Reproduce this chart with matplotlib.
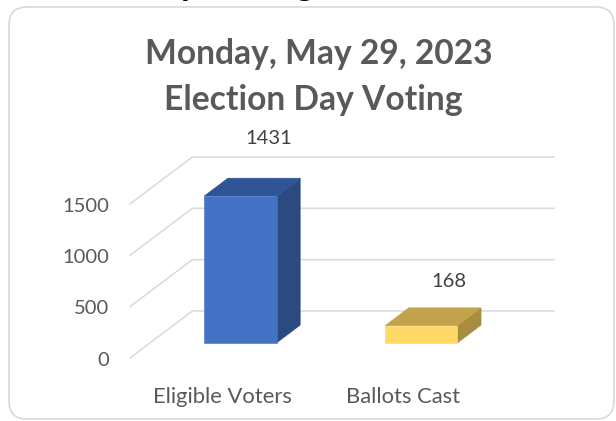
import matplotlib.pyplot as plt
from matplotlib.patches import Polygon, FancyBboxPatch
from matplotlib.transforms import IdentityTransform

plt.rcParams['font.family'] = ['Lato', 'DejaVu Sans']

categories = ['Eligible Voters', 'Ballots Cast']
values = [1431, 168]
yticks = [0, 500, 1000, 1500]
title_lines = ['Monday, May 29, 2023', 'Election Day Voting']

front_colors = ['#4472C4', '#FFD966']
top_colors = ['#2F5597', '#C2A34C']
side_colors = ['#2B4A80', '#A68D40']

W, H = 616, 421
# oblique 3D projection: depth 1 shifts by DX categories and DY value units
DX = 62 / 180
DY = 47 * 1500 / 154
BAR_W = 0.4
D0, D1 = 0.32, 0.70
GRID = '#D9D9D9'
TXT = '#595959'

fig = plt.figure(figsize=(W / 100, H / 100), dpi=100)
fig.patch.set_facecolor('white')

# plot area: left wall front at x=130px, floor front at y=358px
ax = fig.add_axes([130 / W, (H - 358) / H, (554 - 130) / W, (358 - 157) / H])
ax.set_xlim(-0.5, 1.5 + DX)
ax.set_ylim(0, 1500 + DY)
ax.axis('off')

for v in yticks:
    ax.plot([-0.5, -0.5 + DX, 1.5 + DX], [v, v + DY, v + DY],
            color=GRID, lw=1.1, clip_on=False, zorder=1)
    ax.annotate(str(v), (-0.5, v), xytext=(-21, -2), textcoords='offset pixels',
                ha='right', va='center', fontsize=14.5, color=TXT,
                annotation_clip=False)

for i, (v, fc, tc, sc) in enumerate(zip(values, front_colors, top_colors, side_colors)):
    x0 = i - BAR_W / 2
    x1 = i + BAR_W / 2
    fx0, fx1, fy = x0 + D0 * DX, x1 + D0 * DX, D0 * DY
    bx0, bx1, by = x0 + D1 * DX, x1 + D1 * DX, D1 * DY
    front = [(fx0, fy), (fx1, fy), (fx1, fy + v), (fx0, fy + v)]
    top = [(fx0, fy + v), (fx1, fy + v), (bx1, by + v), (bx0, by + v)]
    side = [(fx1, fy), (bx1, by), (bx1, by + v), (fx1, fy + v)]
    for pts, c in ((side, sc), (top, tc), (front, fc)):
        ax.add_patch(Polygon(pts, closed=True, facecolor=c, edgecolor=c,
                             lw=0.4, clip_on=False, zorder=3))
    # value label above the bar
    ax.text(i + 0.77 * DX, 1.11 * v + 96 + DY, str(v), ha='center', va='center',
            fontsize=14.5, color='#404040', zorder=4)
    ax.annotate(categories[i], (i, 0), xytext=(2, -39), textcoords='offset pixels',
                ha='center', va='center', fontsize=15.8, color=TXT,
                annotation_clip=False)

fig.text(319 / W, 1 - 54 / H, title_lines[0], ha='center', va='center',
         fontsize=24.2, fontweight='bold', color=TXT)
fig.text(313 / W, 1 - 100 / H, title_lines[1], ha='center', va='center',
         fontsize=24.2, fontweight='bold', color=TXT)

# clipped header of the chart above this one
fig.text(315 / W, 1 + 5 / H, 'Election Day Voting', ha='right', va='baseline',
         fontsize=26, fontweight='bold', color='black')

border = FancyBboxPatch((9, 2), 605, 412, boxstyle='round,pad=0,rounding_size=18',
                        transform=IdentityTransform(), facecolor='none',
                        edgecolor=GRID, lw=1.2)
fig.add_artist(border)

fig.savefig('out.png', dpi=100, facecolor='white')
